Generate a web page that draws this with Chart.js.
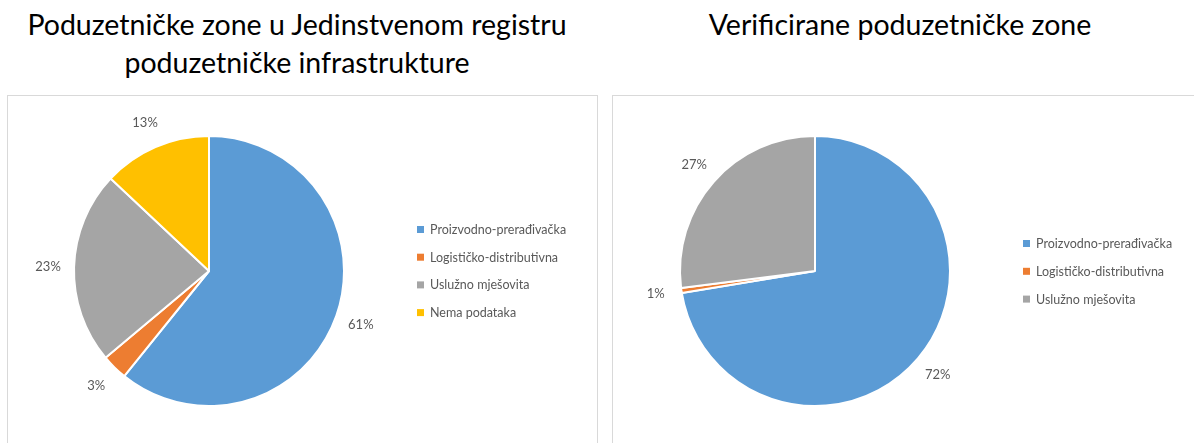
<!DOCTYPE html>
<html>
<head>
<meta charset="utf-8">
<script src="https://cdn.jsdelivr.net/npm/chart.js@4.4.1/dist/chart.umd.min.js"></script>
<style>
  html, body { margin: 0; padding: 0; background: #fff; }
  body { width: 1194px; height: 443px; overflow: hidden; position: relative; font-family: Lato, "Open Sans", sans-serif; }
  .title { position: absolute; top: 5px; font-family: Lato, sans-serif; font-size: 28.5px; line-height: 38px; color: #000; text-align: center; }
  .box { position: absolute; top: 95px; border: 1px solid #d9d9d9; box-sizing: border-box; height: 420px; }
  canvas { position: absolute; top: 0; }
</style>
</head>
<body>
<div class="box" style="left:7px; width:591px;"></div>
<div class="box" style="left:612px; width:600px;"></div>
<div class="title" style="left:0; width:594px;">Poduzetničke zone u Jedinstvenom registru<br>poduzetničke infrastrukture</div>
<div class="title" style="left:600px; width:600px;">Verificirane poduzetničke zone</div>
<canvas id="c1" width="600" height="443" style="left:0"></canvas>
<canvas id="c2" width="594" height="443" style="left:600px"></canvas>
<script>
const categoriesLeft = ["Proizvodno-prerađivačka", "Logističko-distributivna", "Uslužno mješovita", "Nema podataka"];
const valuesLeft = [60.8, 3.1, 23.1, 13.0];
const categoriesRight = ["Proizvodno-prerađivačka", "Logističko-distributivna", "Uslužno mješovita"];
const valuesRight = [72.4, 0.6, 27.0];
const colorsLeft = ["#5B9BD5", "#ED7D31", "#A5A5A5", "#FFC000"];
const colorsRight = ["#5B9BD5", "#ED7D31", "#A5A5A5"];

const excelPlugin = {
  id: 'excelPlugin',
  afterDraw(chart, args, opts) {
    const ctx = chart.ctx;
    const ds = chart.data.datasets[0];
    const meta = chart.getDatasetMeta(0);
    const total = ds.data.reduce((a, b) => a + b, 0);
    ctx.save();
    ctx.font = '13px Lato, "Open Sans", sans-serif';
    ctx.fillStyle = '#595959';
    ctx.textAlign = 'center';
    ctx.textBaseline = 'middle';
    meta.data.forEach((arc, i) => {
      const p = arc.getProps(['x', 'y', 'startAngle', 'endAngle', 'outerRadius'], true);
      const mid = (p.startAngle + p.endAngle) / 2;
      const d = p.outerRadius + opts.labelOffset;
      const tx = p.x + Math.cos(mid) * d;
      const ty = p.y + Math.sin(mid) * d;
      ctx.fillText(Math.round(ds.data[i] / total * 100) + '%', tx, ty);
    });
    // legend
    ctx.font = '12.5px Lato, "Open Sans", sans-serif';
    ctx.textAlign = 'left';
    chart.data.labels.forEach((lab, i) => {
      const y = opts.legendY + i * opts.legendGap;
      ctx.fillStyle = ds.backgroundColor[i];
      ctx.fillRect(opts.legendX - 3, y - 3, 7, 7);
      ctx.fillStyle = '#595959';
      ctx.fillText(lab, opts.legendX + 10, y + 1);
    });
    ctx.restore();
  }
};

function makePie(id, labels, values, colors, padding, legend) {
  return new Chart(document.getElementById(id), {
    type: 'pie',
    data: {
      labels: labels,
      datasets: [{ data: values, backgroundColor: colors, borderColor: '#ffffff', borderWidth: 2 }]
    },
    options: {
      responsive: false,
      animation: false,
      devicePixelRatio: 1,
      layout: { padding: padding },
      plugins: {
        legend: { display: false },
        tooltip: { enabled: false },
        title: { display: false },
        excelPlugin: legend
      }
    },
    plugins: [excelPlugin]
  });
}

makePie('c1', categoriesLeft, valuesLeft, colorsLeft,
  { left: 73, right: 255, top: 135, bottom: 36 },
  { labelOffset: 26, legendX: 420, legendY: 229, legendGap: 27.7 });
makePie('c2', categoriesRight, valuesRight, colorsRight,
  { left: 79, right: 243, top: 135, bottom: 36 },
  { labelOffset: 26, legendX: 426, legendY: 243, legendGap: 27.8 });
</script>
</body>
</html>
